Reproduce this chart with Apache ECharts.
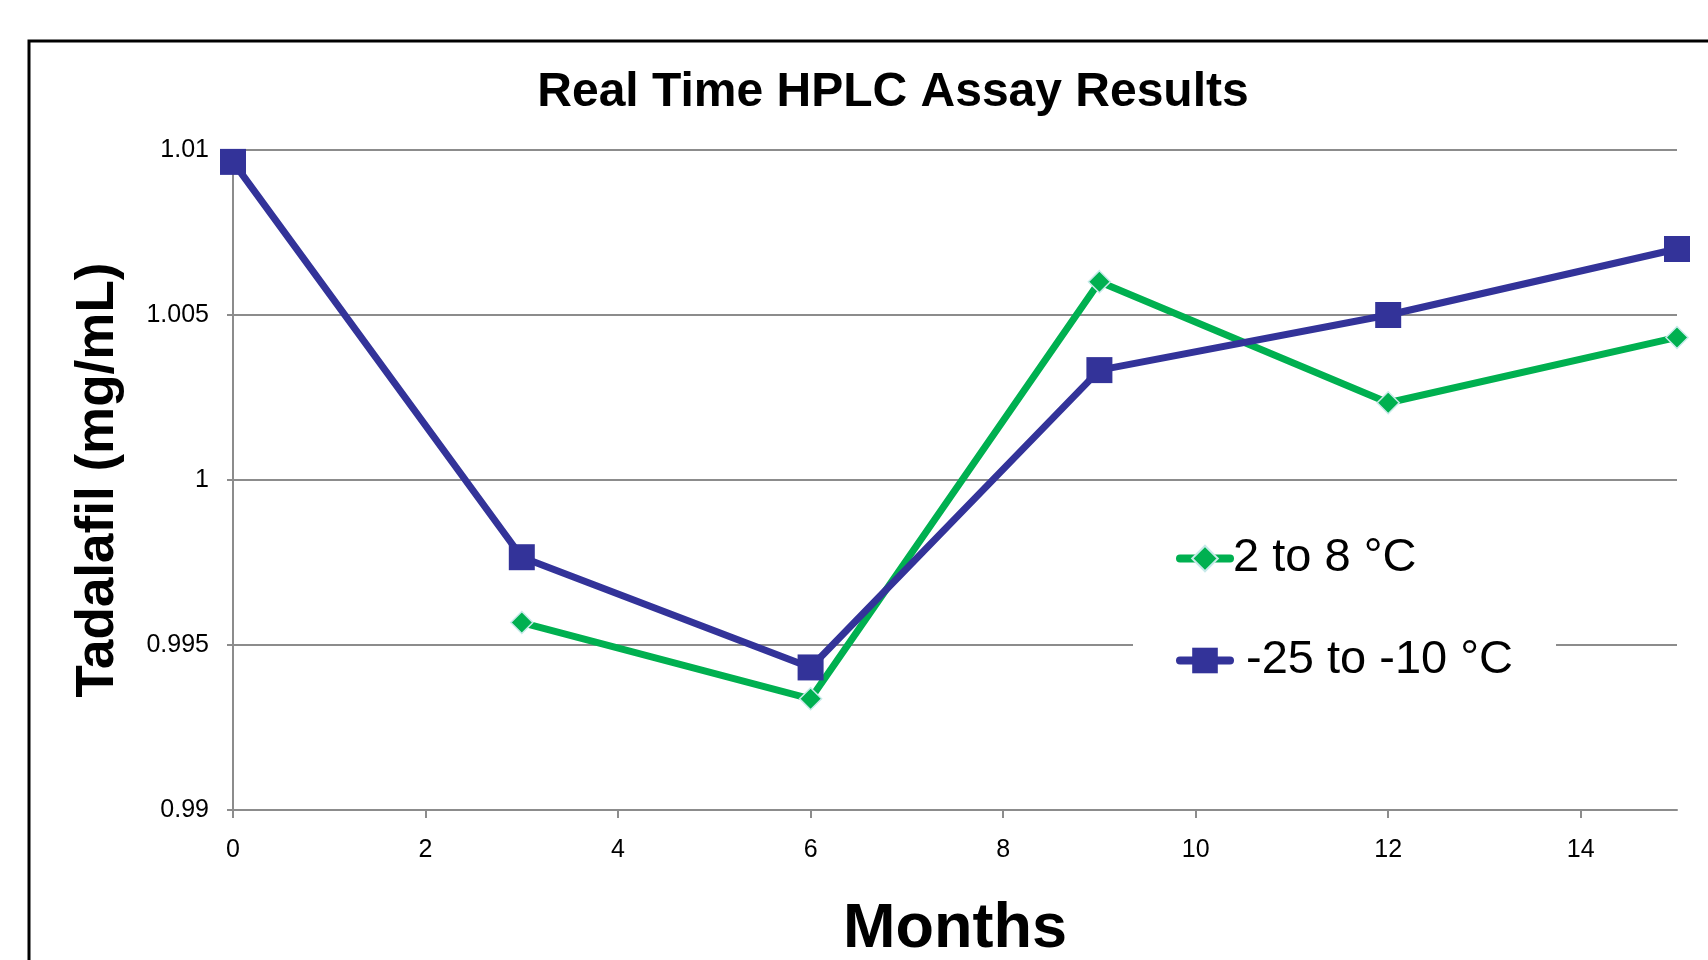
<!DOCTYPE html>
<html>
<head>
<meta charset="utf-8">
<script src="https://cdn.jsdelivr.net/npm/echarts@6/dist/echarts.min.js"></script>
<style>
html,body{margin:0;padding:0;background:#fff;}
#chart{width:1708px;height:960px;}
</style>
</head>
<body>
<div id="chart"></div>
<script>
const titleText = 'Real Time HPLC Assay Results';
const xAxisName = 'Months';
const yAxisName = 'Tadalafil (mg/mL)';
const seriesNames = ['2 to 8 °C', ' -25 to -10 °C'];
const months = [0, 3, 6, 9, 12, 15];
const cold = [null, 0.99568, 0.99337, 1.00601, 1.00234, 1.00432];
const frozen = [1.00964, 0.99766, 0.99432, 1.00333, 1.00500, 1.00700];

const FONT = '"Liberation Sans", Arial, sans-serif';
const chart = echarts.init(document.getElementById('chart'));

function pairs(vals) {
  const out = [];
  months.forEach((m, i) => { if (vals[i] !== null) out.push([m, vals[i]]); });
  return out;
}

chart.setOption({
  animation: false,
  backgroundColor: '#ffffff',
  title: {
    text: titleText,
    left: 893,
    textAlign: 'center',
    top: 69,
    padding: 0,
    textStyle: { fontFamily: FONT, fontSize: 48, fontWeight: 'bold', color: '#000' }
  },
  graphic: [{
    type: 'rect',
    shape: { x: 29, y: 41, width: 1720, height: 1000 },
    style: { fill: null, stroke: '#000', lineWidth: 3 },
    z: 100
  }],
  grid: { left: 233, right: 31, top: 150, bottom: 150, containLabel: false, outerBoundsMode: 'none' },
  legend: {
    data: seriesNames,
    orient: 'vertical',
    left: 1133,
    top: 507,
    backgroundColor: '#ffffff',
    padding: [28, 43, 30, 43],
    itemWidth: 50,
    itemHeight: 32,
    itemGap: 55,
    lineStyle: { width: 8, cap: 'round' },
    textStyle: { fontFamily: FONT, fontSize: 47, color: '#000', padding: [0, 0, 0, -2] },
    z: 3
  },
  xAxis: {
    type: 'value',
    min: 0,
    max: 15,
    interval: 2,
    name: xAxisName,
    nameLocation: 'middle',
    nameGap: 88,
    nameTextStyle: { fontFamily: FONT, fontSize: 63, fontWeight: 'bold', color: '#000' },
    axisLine: { show: true, lineStyle: { color: '#8c8c8c', width: 2 } },
    axisTick: { show: true, inside: false, length: 8, lineStyle: { color: '#8c8c8c', width: 2 } },
    splitLine: { show: false },
    axisLabel: {
      margin: 28,
      fontFamily: FONT, fontSize: 25, color: '#000',
      showMaxLabel: false,
      formatter: v => (v === 15 ? '' : String(v))
    }
  },
  yAxis: {
    type: 'value',
    min: 0.99,
    max: 1.01,
    interval: 0.005,
    name: yAxisName,
    nameLocation: 'middle',
    nameGap: 108,
    nameTextStyle: { fontFamily: FONT, fontSize: 53, fontWeight: 'bold', color: '#000' },
    axisLine: { show: true, lineStyle: { color: '#8c8c8c', width: 2 } },
    axisTick: { show: true, inside: false, length: 6, lineStyle: { color: '#8c8c8c', width: 2 } },
    splitLine: { show: true, lineStyle: { color: '#8c8c8c', width: 2 } },
    axisLabel: {
      margin: 24,
      fontFamily: FONT, fontSize: 25, color: '#000',
      formatter: v => String(parseFloat(v.toFixed(4)))
    }
  },
  series: [
    {
      name: seriesNames[0],
      type: 'line',
      data: pairs(cold),
      symbol: 'diamond',
      symbolSize: 22,
      lineStyle: { color: '#00b050', width: 7 },
      itemStyle: { color: '#00b050', borderColor: '#c8eaea', borderWidth: 1.5 },
      z: 2
    },
    {
      name: seriesNames[1],
      type: 'line',
      data: pairs(frozen),
      symbol: 'rect',
      symbolSize: 26,
      lineStyle: { color: '#333399', width: 7 },
      itemStyle: { color: '#333399' },
      z: 2
    }
  ]
});
</script>
</body>
</html>
